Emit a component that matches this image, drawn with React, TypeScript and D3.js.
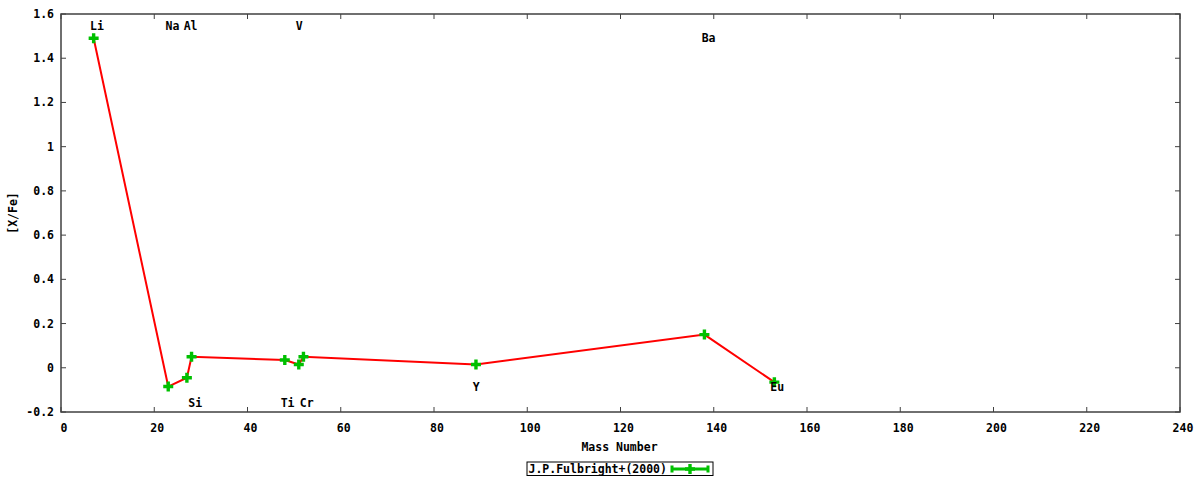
import React from "react";
import * as d3 from "d3";

const elements = ["Li", "Na", "Al", "Si", "Ti", "V", "Cr", "Y", "Ba", "Eu"];
const massNumbers = [7, 23, 27, 28, 48, 51, 52, 89, 138, 153];
const abundances = [1.49, -0.085, -0.045, 0.05, 0.035, 0.015, 0.05, 0.015, 0.15, -0.065];

const labelTexts = ["Li", "Na", "Al", "V", "Ba", "Si", "Ti", "Cr", "Y", "Eu"];
const labelX = [7.7, 23.9, 27.8, 51.1, 138.9, 28.8, 48.6, 52.7, 89.05, 153.6];
const labelY = [1.546, 1.546, 1.546, 1.546, 1.492, -0.158, -0.158, -0.158, -0.085, -0.085];

const xTicks = [0, 20, 40, 60, 80, 100, 120, 140, 160, 180, 200, 220, 240];
const yTicks = [-0.2, 0, 0.2, 0.4, 0.6, 0.8, 1, 1.2, 1.4, 1.6];

const seriesTitle = "J.P.Fulbright+(2000)";
const xTitle = "Mass Number";
const yTitle = "[X/Fe]";

const W = 1200;
const H = 480;
const L = 61;
const R = 1180;
const T = 14;
const B = 412;
const FONT = "'DejaVu Sans Mono', monospace";
const RED = "#ff0000";
const GREEN = "#00c000";
const AXIS = "#404040";

function Plus({ x, y, s = 5 }: { x: number; y: number; s?: number }) {
  return (
    <path
      d={`M${x - s},${y}H${x + s}M${x},${y - s}V${y + s}`}
      stroke={GREEN}
      strokeWidth={3.4}
      fill="none"
    />
  );
}

export default function App() {
  const x = d3.scaleLinear().domain([0, 240]).range([L, R]);
  const y = d3.scaleLinear().domain([-0.2, 1.6]).range([B, T]);
  const pts: [number, number][] = massNumbers.map((m, i) => [m, abundances[i]]);
  const line = d3
    .line<[number, number]>()
    .x((d) => x(d[0]))
    .y((d) => y(d[1]));
  const fmt = (v: number) => (Math.abs(v) < 1e-9 ? "0" : String(Math.round(v * 10) / 10));
  const tl = 5;
  const legX0 = 527;
  const legX1 = 713;
  const legY0 = 462;
  const legY1 = 475.5;
  const lmY = 469;
  const lm0 = 672;
  const lm1 = 708;
  return (
    <svg
      width={W}
      height={H}
      style={{ position: "fixed", left: 0, top: 0, background: "#fff" }}
      fontFamily={FONT}
      fontWeight="bold"
      fontSize={11.5}
    >
      <rect x={0} y={0} width={W} height={H} fill="#fff" />
      {/* ticks */}
      {xTicks.map((t) => (
        <g key={"xt" + t}>
          <line x1={x(t)} x2={x(t)} y1={B} y2={B - tl} stroke={AXIS} strokeWidth={1} />
          <line x1={x(t)} x2={x(t)} y1={T} y2={T + tl} stroke={AXIS} strokeWidth={1} />
          <text x={x(t) + 3} y={428} textAnchor="middle" dominantBaseline="central" fill="#000">
            {fmt(t)}
          </text>
        </g>
      ))}
      {yTicks.map((t) => (
        <g key={"yt" + t}>
          <line x1={L} x2={L + tl} y1={y(t)} y2={y(t)} stroke={AXIS} strokeWidth={1} />
          <line x1={R} x2={R - tl} y1={y(t)} y2={y(t)} stroke={AXIS} strokeWidth={1} />
          <text x={54} y={y(t)} textAnchor="end" dominantBaseline="central" fill="#000">
            {fmt(t)}
          </text>
        </g>
      ))}
      <rect x={L} y={T} width={R - L} height={B - T} fill="none" stroke={AXIS} strokeWidth={1.5} />
      {/* axis titles */}
      <text x={(L + R) / 2 - 1} y={447} textAnchor="middle" dominantBaseline="central" fill="#000">
        {xTitle}
      </text>
      <text
        transform={`translate(13,${(T + B) / 2}) rotate(-90)`}
        textAnchor="middle"
        dominantBaseline="central"
        fill="#000"
      >
        {yTitle}
      </text>
      {/* data line */}
      <path d={line(pts) || ""} stroke={RED} strokeWidth={2} fill="none" />
      {pts.map((p, i) => (
        <Plus key={elements[i]} x={x(p[0])} y={y(p[1])} />
      ))}
      {/* element labels */}
      {labelTexts.map((s, i) => (
        <text
          key={"lb" + i}
          x={x(labelX[i])}
          y={y(labelY[i])}
          textAnchor="middle"
          dominantBaseline="central"
          fill="#000"
        >
          {s}
        </text>
      ))}
      {/* legend */}
      <rect
        x={legX0}
        y={legY0}
        width={legX1 - legX0}
        height={legY1 - legY0}
        fill="#fff"
        stroke="#000"
        strokeWidth={1}
      />
      <text x={528.5} y={(legY0 + legY1) / 2} dominantBaseline="central" fill="#000">
        {seriesTitle}
      </text>
      <path
        d={`M${lm0},${lmY}H${lm1}M${lm0},${lmY - 3.5}V${lmY + 3.5}M${lm1},${lmY - 3.5}V${lmY + 3.5}`}
        stroke={GREEN}
        strokeWidth={3}
        fill="none"
      />
      <Plus x={(lm0 + lm1) / 2} y={lmY} />
    </svg>
  );
}
